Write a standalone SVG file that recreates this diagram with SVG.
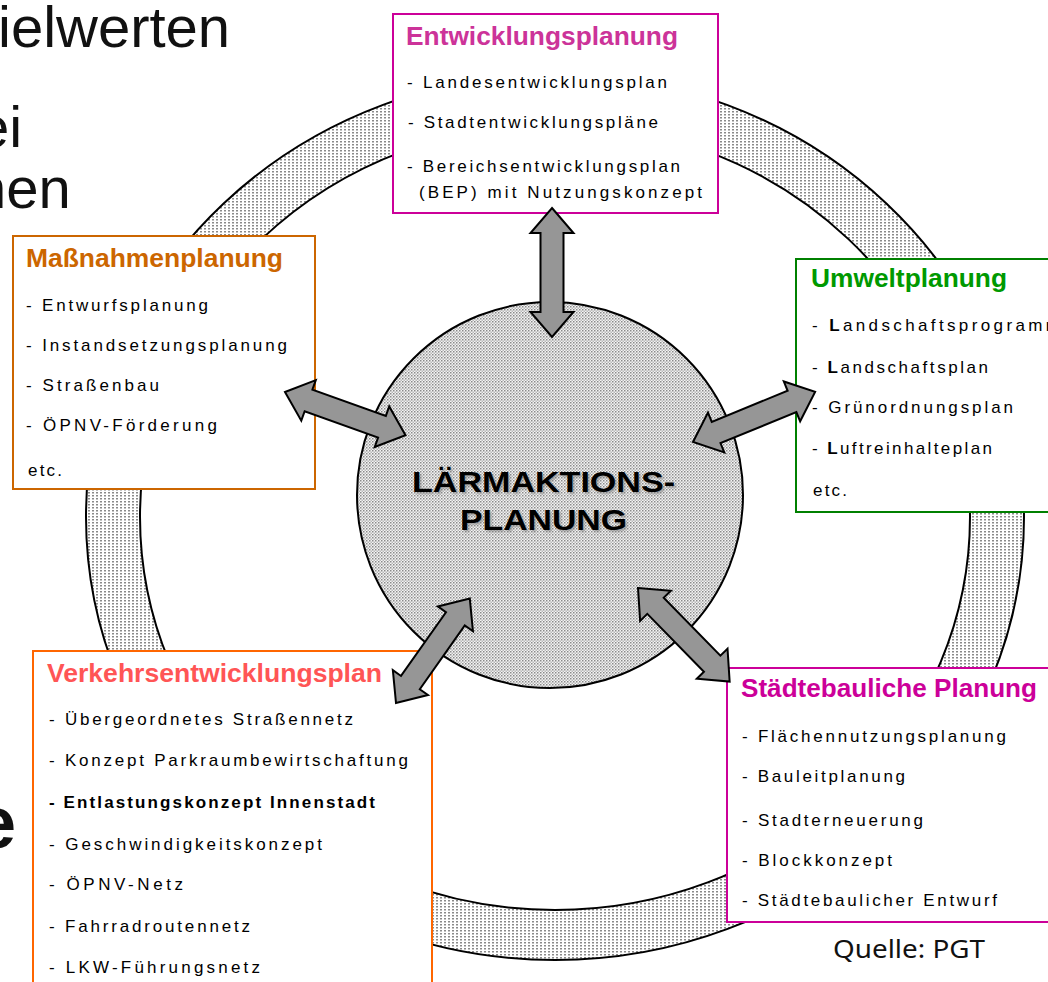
<svg xmlns="http://www.w3.org/2000/svg" width="1048" height="982" viewBox="0 0 1048 982">
<style>
.big{font-family:"Liberation Sans",Arial,sans-serif;font-size:58px;fill:#111}
.box{fill:#fff;stroke-width:2}
.ttl{font-family:"Liberation Sans",Arial,sans-serif;font-size:25px;font-weight:bold}
.itm{font-family:"Liberation Sans",Arial,sans-serif;font-size:17px;fill:#000}
.arr{fill:#969696;stroke:#000;stroke-width:2;stroke-linejoin:miter}
.ctr{font-family:"Liberation Sans",Arial,sans-serif;font-size:30px;font-weight:bold}
</style>
<defs>
<pattern id="ringDots" width="4" height="3" patternUnits="userSpaceOnUse"><rect width="4" height="3" fill="#fff"/><rect width="2" height="1.5" fill="#8a8a8a"/></pattern>
<pattern id="circDots" width="3" height="3" patternUnits="userSpaceOnUse"><rect width="3" height="3" fill="#f4f4f4"/><rect width="1.5" height="1.5" fill="#8a8a8a"/><rect x="1.5" y="1.5" width="1.5" height="1.5" fill="#b8b8b8"/></pattern>
<filter id="sh" x="-10%" y="-30%" width="120%" height="160%"><feGaussianBlur stdDeviation="1.2"/></filter>
</defs>
<rect width="1048" height="982" fill="#fff"/>

<g id="bg-text">
<text class="big" x="-2" y="47">ielwerten</text>
<text class="big" x="-23" y="147">ei</text>
<text class="big" x="-26" y="208">hen</text>
<text class="big" x="-25" y="848" style="font-size:74px;font-weight:bold">e</text>
</g>

<g id="ring">
<path d="M86,517 a469,443 0 1,0 938,0 a469,443 0 1,0 -938,0 Z M140,517 a415,393 0 1,0 830,0 a415,393 0 1,0 -830,0 Z" fill="url(#ringDots)" fill-rule="evenodd" stroke="#000" stroke-width="2"/>
</g>

<g id="center">
<circle cx="550" cy="495" r="193" fill="url(#circDots)" stroke="#000" stroke-width="2"/>
<g filter="url(#sh)" fill="#808080" opacity="0.6">
<text class="ctr" x="414" y="494" textLength="263" lengthAdjust="spacingAndGlyphs">LÄRMAKTIONS-</text>
<text class="ctr" x="462" y="532" textLength="167" lengthAdjust="spacingAndGlyphs">PLANUNG</text>
</g>
<text class="ctr" x="412" y="492" textLength="263" lengthAdjust="spacingAndGlyphs" fill="#000">LÄRMAKTIONS-</text>
<text class="ctr" x="460" y="530" textLength="167" lengthAdjust="spacingAndGlyphs" fill="#000">PLANUNG</text>
</g>

<g id="entwicklungsplanung">
<rect class="box" x="393" y="14" width="325" height="199" stroke="#cc0099"/>
<text class="ttl" x="406" y="45" textLength="272" lengthAdjust="spacingAndGlyphs" fill="#cc3399">Entwicklungsplanung</text>
<text class="itm" x="407" y="88" textLength="260" lengthAdjust="spacing">- Landesentwicklungsplan</text>
<text class="itm" x="408" y="128" textLength="250" lengthAdjust="spacing">- Stadtentwicklungspläne</text>
<text class="itm" x="407" y="172" textLength="273" lengthAdjust="spacing">- Bereichsentwicklungsplan</text>
<text class="itm" x="419" y="198" textLength="283" lengthAdjust="spacing">(BEP) mit Nutzungskonzept</text>
</g>

<g id="massnahmenplanung">
<rect class="box" x="13" y="236" width="302" height="253" stroke="#cc6600"/>
<text class="ttl" x="26" y="267" textLength="257" lengthAdjust="spacingAndGlyphs" fill="#cc6600">Maßnahmenplanung</text>
<text class="itm" x="26" y="311" textLength="182" lengthAdjust="spacing">- Entwurfsplanung</text>
<text class="itm" x="26" y="351" textLength="261" lengthAdjust="spacing">- Instandsetzungsplanung</text>
<text class="itm" x="26" y="391" textLength="133" lengthAdjust="spacing">- Straßenbau</text>
<text class="itm" x="26" y="431" textLength="191" lengthAdjust="spacing">- ÖPNV-Förderung</text>
<text class="itm" x="28" y="476" textLength="34" lengthAdjust="spacing">etc.</text>
</g>

<g id="umweltplanung">
<rect class="box" x="796" y="259" width="270" height="253" stroke="#008000"/>
<text class="ttl" x="811" y="287" textLength="196" lengthAdjust="spacingAndGlyphs" fill="#009900">Umweltplanung</text>
<text class="itm" x="812" y="331" textLength="248" lengthAdjust="spacing">- <tspan font-weight="bold">L</tspan>andschaftsprogramm</text>
<text class="itm" x="812" y="373" textLength="176" lengthAdjust="spacing">- <tspan font-weight="bold">L</tspan>andschaftsplan</text>
<text class="itm" x="812" y="413" textLength="201" lengthAdjust="spacing">- Grünordnungsplan</text>
<text class="itm" x="812" y="454" textLength="180" lengthAdjust="spacing">- <tspan font-weight="bold">L</tspan>uftreinhalteplan</text>
<text class="itm" x="813" y="496" textLength="34" lengthAdjust="spacing">etc.</text>
</g>

<g id="verkehrsentwicklungsplan">
<rect class="box" x="33" y="651" width="399" height="360" stroke="#ff6600"/>
<text class="ttl" x="47" y="682" textLength="335" lengthAdjust="spacingAndGlyphs" fill="#ff5555">Verkehrsentwicklungsplan</text>
<text class="itm" x="49" y="725" textLength="304" lengthAdjust="spacing">- Übergeordnetes Straßennetz</text>
<text class="itm" x="49" y="766" textLength="359" lengthAdjust="spacing">- Konzept Parkraumbewirtschaftung</text>
<text class="itm" x="49" y="808" textLength="326" lengthAdjust="spacing" font-weight="bold">- Entlastungskonzept Innenstadt</text>
<text class="itm" x="49" y="850" textLength="273" lengthAdjust="spacing">- Geschwindigkeitskonzept</text>
<text class="itm" x="49" y="890" textLength="134" lengthAdjust="spacing">- ÖPNV-Netz</text>
<text class="itm" x="49" y="932" textLength="201" lengthAdjust="spacing">- Fahrradroutennetz</text>
<text class="itm" x="49" y="973" textLength="211" lengthAdjust="spacing">- LKW-Führungsnetz</text>
</g>

<g id="staedtebauliche-planung">
<rect class="box" x="727" y="668" width="340" height="254" stroke="#cc0099"/>
<text class="ttl" x="741" y="697" textLength="296" lengthAdjust="spacingAndGlyphs" fill="#cc0099">Städtebauliche Planung</text>
<text class="itm" x="742" y="742" textLength="264" lengthAdjust="spacing">- Flächennutzungsplanung</text>
<text class="itm" x="742" y="782" textLength="163" lengthAdjust="spacing">- Bauleitplanung</text>
<text class="itm" x="742" y="826" textLength="181" lengthAdjust="spacing">- Stadterneuerung</text>
<text class="itm" x="742" y="866" textLength="150" lengthAdjust="spacing">- Blockkonzept</text>
<text class="itm" x="742" y="906" textLength="255" lengthAdjust="spacing">- Städtebaulicher Entwurf</text>
</g>

<g id="connectors">
<polygon class="arr" transform="translate(552,208) rotate(90)" points="0,0 25,-21.5 25,-11.5 104,-11.5 104,-21.5 129,0 104,21.5 104,11.5 25,11.5 25,21.5"/>
<polygon class="arr" transform="translate(285,392) rotate(19.7)" points="0,0 25,-21.5 25,-11.5 103,-11.5 103,-21.5 128,0 103,21.5 103,11.5 25,11.5 25,21.5"/>
<polygon class="arr" transform="translate(693,442) rotate(-22.3)" points="0,0 25,-21.5 25,-11.5 107,-11.5 107,-21.5 132,0 107,21.5 107,11.5 25,11.5 25,21.5"/>
<polygon class="arr" transform="translate(396,703) rotate(-54.8)" points="0,0 25,-21.5 25,-11.5 103,-11.5 103,-21.5 128,0 103,21.5 103,11.5 25,11.5 25,21.5"/>
<polygon class="arr" transform="translate(638,588) rotate(45.6)" points="0,0 25,-21.5 25,-11.5 106,-11.5 106,-21.5 131,0 106,21.5 106,11.5 25,11.5 25,21.5"/>
</g>

<g id="source">
<text x="833" y="958" textLength="152" lengthAdjust="spacingAndGlyphs" style="font-family:'Noto Sans','Open Sans',sans-serif;font-size:26px;fill:#111">Quelle: PGT</text>
</g>
</svg>
